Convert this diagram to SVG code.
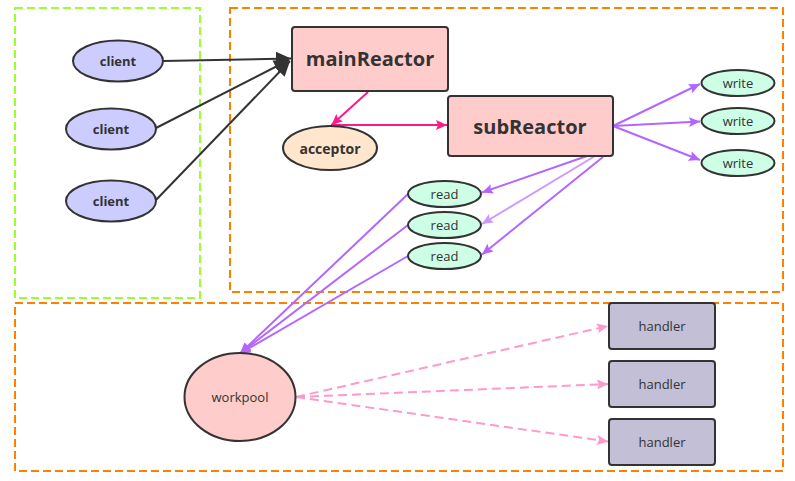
<svg xmlns="http://www.w3.org/2000/svg" width="795" height="481" viewBox="0 0 795 481">
<style>
.bold{font-family:"Open Sans","Noto Sans","DejaVu Sans",sans-serif;font-weight:bold;fill:#333;text-anchor:middle;dominant-baseline:central}
.reg{font-family:"Open Sans","Noto Sans","DejaVu Sans",sans-serif;fill:#333;text-anchor:middle;dominant-baseline:central;font-size:13px}
.node{stroke:#333;stroke-width:2}
.grp{fill:none;stroke-width:2;stroke-dasharray:8,4}
.dark{stroke:#333;stroke-width:2;fill:none}
.pink{stroke:#ff1a8c;stroke-width:2;fill:none}
.pur{stroke:#b266ff;stroke-width:2;fill:none}
.purl{stroke:#cc99ff;stroke-width:2;fill:none}
.dash{stroke:#ff99cc;stroke-width:2;fill:none;stroke-dasharray:9,5}
</style>
<defs>
<marker id="ad" markerUnits="userSpaceOnUse" markerWidth="16" markerHeight="16" refX="15" refY="8" orient="auto"><path d="M0,1 L15,8 L0,15 Z" fill="#333"/></marker>
<marker id="ap" markerUnits="userSpaceOnUse" markerWidth="12" markerHeight="12" refX="11" refY="6" orient="auto"><path d="M0,1 L11,6 L0,11 L2,6 Z" fill="#ff1a8c"/></marker>
<marker id="au" markerUnits="userSpaceOnUse" markerWidth="12" markerHeight="12" refX="11" refY="6" orient="auto"><path d="M0,1 L11,6 L0,11 L2,6 Z" fill="#b266ff"/></marker>
<marker id="al" markerUnits="userSpaceOnUse" markerWidth="12" markerHeight="12" refX="11" refY="6" orient="auto"><path d="M0,1 L11,6 L0,11 L2,6 Z" fill="#cc99ff"/></marker>
<marker id="ak" markerUnits="userSpaceOnUse" markerWidth="12" markerHeight="12" refX="11" refY="6" orient="auto"><path d="M0,1 L11,6 L0,11 L2,6 Z" fill="#ff99cc"/></marker>
</defs>
<rect width="795" height="481" fill="#fff"/>
<g id="groups">
<rect class="grp" x="15" y="8" width="185" height="290" stroke="#99ff33"/>
<rect class="grp" x="230" y="8" width="553" height="284" stroke="#ff8000"/>
<rect class="grp" x="15" y="303" width="768" height="168" stroke="#ff8000"/>
</g>
<g id="connectors">
<line class="dark" x1="163" y1="61" x2="291" y2="58.5" marker-end="url(#ad)"/>
<line class="dark" x1="156" y1="128" x2="289" y2="60" marker-end="url(#ad)"/>
<line class="dark" x1="156" y1="200" x2="290" y2="61" marker-end="url(#ad)"/>
<line class="pink" x1="368" y1="92" x2="331.5" y2="125" marker-end="url(#ap)"/>
<line class="pink" x1="331" y1="125" x2="447" y2="125" marker-end="url(#ap)"/>
<line class="pur" x1="613" y1="126" x2="700" y2="84" marker-end="url(#au)"/>
<line class="pur" x1="613" y1="126" x2="700" y2="121.5" marker-end="url(#au)"/>
<line class="pur" x1="613" y1="126" x2="700" y2="160" marker-end="url(#au)"/>
<line class="pur" x1="587" y1="156" x2="482" y2="192.5" marker-end="url(#au)"/>
<line class="purl" x1="595" y1="156" x2="482" y2="224" marker-end="url(#al)"/>
<line class="pur" x1="603" y1="157" x2="482" y2="254.5" marker-end="url(#au)"/>
<line class="pur" x1="408" y1="194" x2="240" y2="353.5" marker-end="url(#au)"/>
<line class="pur" x1="408" y1="225" x2="240" y2="353.5" marker-end="url(#au)"/>
<line class="pur" x1="408" y1="256" x2="240" y2="353.5" marker-end="url(#au)"/>
<line class="dash" x1="296" y1="397" x2="608" y2="326" marker-end="url(#ak)"/>
<line class="dash" x1="296" y1="397" x2="608" y2="384" marker-end="url(#ak)"/>
<line class="dash" x1="296" y1="397" x2="608" y2="441.5" marker-end="url(#ak)"/>
</g>
<g id="client1"><ellipse class="node" cx="118" cy="61" rx="45" ry="20.5" fill="#ccccff"/><text class="bold" x="118" y="61" font-size="13">client</text></g>
<g id="client2"><ellipse class="node" cx="111" cy="129" rx="45" ry="20.5" fill="#ccccff"/><text class="bold" x="111" y="129" font-size="13">client</text></g>
<g id="client3"><ellipse class="node" cx="111" cy="201" rx="45" ry="20.5" fill="#ccccff"/><text class="bold" x="111" y="201" font-size="13">client</text></g>
<g id="mainReactor"><rect class="node" x="292" y="27" width="156" height="64" rx="3" fill="#ffcccc"/><text class="bold" x="370" y="58" font-size="20">mainReactor</text></g>
<g id="acceptor"><ellipse class="node" cx="330" cy="148" rx="47" ry="22" fill="#ffe6cc"/><text class="bold" x="330" y="148" font-size="14">acceptor</text></g>
<g id="subReactor"><rect class="node" x="448" y="96" width="165" height="60" rx="3" fill="#ffcccc"/><text class="bold" x="530" y="126" font-size="20">subReactor</text></g>
<g id="write1"><ellipse class="node" cx="738" cy="83" rx="36.5" ry="13" fill="#ccffe6"/><text class="reg" x="738" y="83">write</text></g>
<g id="write2"><ellipse class="node" cx="738" cy="121" rx="36.5" ry="13" fill="#ccffe6"/><text class="reg" x="738" y="121">write</text></g>
<g id="write3"><ellipse class="node" cx="738" cy="163" rx="36.5" ry="13" fill="#ccffe6"/><text class="reg" x="738" y="163">write</text></g>
<g id="read1"><ellipse class="node" cx="444.5" cy="194" rx="36.5" ry="13" fill="#ccffe6"/><text class="reg" x="444.5" y="194">read</text></g>
<g id="read2"><ellipse class="node" cx="444.5" cy="225" rx="36.5" ry="13" fill="#ccffe6"/><text class="reg" x="444.5" y="225">read</text></g>
<g id="read3"><ellipse class="node" cx="444.5" cy="256" rx="36.5" ry="13" fill="#ccffe6"/><text class="reg" x="444.5" y="256">read</text></g>
<g id="workpool"><ellipse class="node" cx="240" cy="397" rx="55.5" ry="44" fill="#ffcccc"/><text class="reg" x="240" y="397">workpool</text></g>
<g id="handler1"><rect class="node" x="609" y="303" width="106" height="46" rx="3" fill="#c3bfd6"/><text class="reg" x="662" y="326">handler</text></g>
<g id="handler2"><rect class="node" x="609" y="361" width="106" height="46" rx="3" fill="#c3bfd6"/><text class="reg" x="662" y="384">handler</text></g>
<g id="handler3"><rect class="node" x="609" y="419" width="106" height="46" rx="3" fill="#c3bfd6"/><text class="reg" x="662" y="442">handler</text></g>
</svg>
